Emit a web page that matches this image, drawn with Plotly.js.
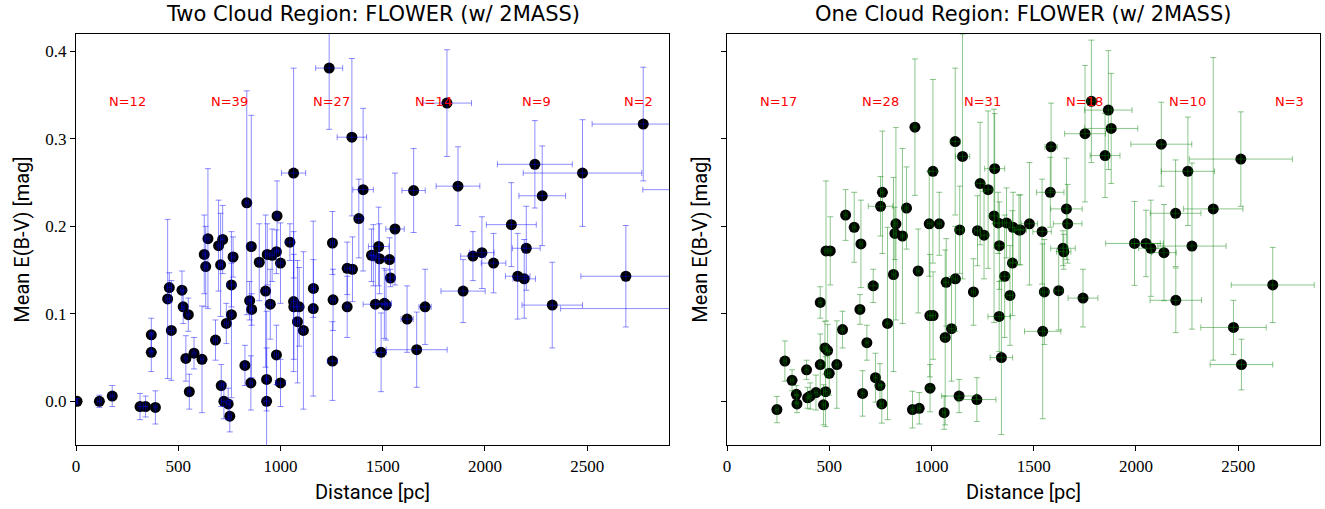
<!DOCTYPE html>
<html>
<head>
<meta charset="utf-8">
<script src="https://cdn.plot.ly/plotly-3.0.1.min.js"></script>
<style>html,body{margin:0;padding:0;background:#fff;}#chart{width:1325px;height:509px;}</style>
</head>
<body>
<div id="chart"></div>
<script>
// ---- Two Cloud Region (left, blue) ----
const twoDist = [5,114,177,313,340,388,368,368,448,456,466,518,524,549,537,554,577,616,627,634,645,682,697,707,717,710,723,744,752,735,760,760,768,826,835,857,849,859,855,896,927,932,932,950,935,959,980,983,980,1000,1000,1046,1064,1064,1065,1091,1083,1112,1161,1160,1238,1254,1257,1254,1349,1404,1383,1326,1352,1326,1445,1480,1454,1484,1533,1538,1560,1464,1508,1516,1492,1651,1619,1666,1707,1814,1868,1893,1941,1985,2042,2129,2160,2192,2202,2244,2280,2329,2477,2689,2774,3150,3200];
const twoEBV = [0.000,0.000,0.006,-0.006,-0.006,-0.007,0.076,0.056,0.117,0.130,0.081,0.127,0.108,0.099,0.049,0.011,0.055,0.048,0.168,0.154,0.186,0.070,0.178,0.156,0.185,0.018,0.000,-0.003,-0.017,0.089,0.099,0.133,0.165,0.041,0.227,0.177,0.115,0.105,0.021,0.159,0.126,0.025,0.000,0.111,0.168,0.167,0.171,0.212,0.053,0.158,0.021,0.182,0.261,0.114,0.108,0.108,0.091,0.081,0.129,0.106,0.381,0.181,0.116,0.046,0.302,0.242,0.209,0.152,0.151,0.108,0.167,0.177,0.167,0.163,0.162,0.141,0.197,0.111,0.112,0.110,0.056,0.241,0.094,0.059,0.108,0.341,0.246,0.126,0.166,0.170,0.158,0.202,0.143,0.140,0.175,0.271,0.235,0.110,0.261,0.143,0.317,0.242,0.106];
const twoDistErr = [3,10,10,10,10,8,8,8,10,12,12,8,8,8,8,8,10,8,8,8,10,10,8,8,8,10,12,10,8,10,8,20,10,8,8,8,8,8,8,10,10,8,12,12,10,10,10,10,10,12,25,20,59,12,15,15,10,10,10,12,66,10,12,25,72,50,15,12,10,10,12,50,15,35,25,20,45,60,35,20,25,57,30,149,30,120,107,108,60,60,60,122,60,55,68,183,114,148,290,220,250,378,830];
const twoEBVErr = [0.003,0.007,0.012,0.015,0.012,0.019,0.019,0.022,0.091,0.017,0.057,0.022,0.019,0.019,0.026,0.020,0.018,0.061,0.045,0.046,0.080,0.023,0.052,0.059,0.039,0.024,0.020,0.018,0.018,0.023,0.095,0.025,0.023,0.023,0.128,0.150,0.022,0.018,0.031,0.044,0.087,0.036,0.103,0.040,0.035,0.030,0.025,0.040,0.034,0.046,0.027,0.021,0.120,0.080,0.060,0.045,0.070,0.090,0.033,0.100,0.070,0.036,0.035,0.045,0.090,0.093,0.045,0.030,0.037,0.035,0.030,0.045,0.035,0.040,0.025,0.010,0.064,0.055,0.040,0.040,0.045,0.048,0.038,0.043,0.043,0.061,0.045,0.036,0.028,0.041,0.034,0.048,0.049,0.045,0.048,0.050,0.057,0.049,0.061,0.058,0.065,0.050,0.050];

// ---- One Cloud Region (right, green) ----
const oneDist = [244,283,318,339,342,389,394,407,435,456,456,472,482,479,492,500,484,505,537,565,580,622,655,650,663,684,715,726,748,757,751,760,785,814,826,821,858,878,919,907,940,935,989,993,992,1008,1007,1038,1062,1067,1072,1098,1117,1116,1152,1138,1135,1205,1222,1238,1225,1257,1277,1309,1306,1326,1332,1367,1399,1396,1358,1384,1331,1342,1428,1435,1479,1541,1585,1581,1660,1666,1643,1647,1552,1622,1741,1544,1751,1782,1865,1879,1849,2124,2254,2194,2378,2513,1993,2049,2073,2137,2274,2195,2477,2516,2669];
const oneEBV = [-0.0095,0.046,0.024,0.008,-0.003,0.036,0.004,0.006,0.010,0.113,0.042,-0.004,0.011,0.061,0.058,0.032,0.172,0.172,0.042,0.082,0.213,0.199,0.180,0.105,0.009,0.067,0.132,0.027,0.018,-0.003,0.223,0.239,0.089,0.145,0.203,0.192,0.189,0.221,0.3135,-0.0095,-0.008,0.149,0.203,0.015,0.098,0.098,0.263,0.203,-0.013,0.073,0.136,0.083,0.140,0.297,0.280,0.196,0.006,0.125,0.002,0.249,0.195,0.190,0.242,0.266,0.212,0.204,0.178,0.204,0.199,0.158,0.143,0.121,0.097,0.050,0.196,0.196,0.203,0.194,0.291,0.239,0.220,0.203,0.175,0.171,0.125,0.1265,0.118,0.080,0.306,0.343,0.333,0.312,0.281,0.294,0.263,0.215,0.220,0.277,0.1805,0.1805,0.175,0.170,0.1775,0.1155,0.0844,0.042,0.133];
const oneDistErr = [8,8,8,8,8,8,8,8,8,8,8,8,8,8,8,8,8,8,8,8,8,8,8,8,8,8,25,8,8,8,60,8,8,8,8,8,8,8,8,8,8,8,10,15,12,12,20,10,8,15,12,12,12,25,35,20,85,10,93,20,15,15,20,49,20,20,25,20,20,20,20,15,55,55,20,30,40,45,30,67,77,70,60,35,20,20,73,89,100,20,116,130,73,149,130,124,145,252,141,70,60,60,167,126,160,153,203];
const oneEBVErr = [0.015,0.023,0.012,0.010,0.010,0.011,0.012,0.015,0.020,0.018,0.035,0.023,0.040,0.030,0.030,0.025,0.080,0.039,0.050,0.021,0.029,0.040,0.050,0.017,0.026,0.020,0.019,0.028,0.025,0.022,0.034,0.070,0.110,0.111,0.110,0.030,0.100,0.047,0.078,0.021,0.018,0.048,0.060,0.027,0.070,0.050,0.105,0.036,0.019,0.100,0.050,0.060,0.060,0.084,0.140,0.050,0.019,0.038,0.025,0.070,0.040,0.050,0.090,0.063,0.122,0.035,0.050,0.040,0.040,0.060,0.070,0.057,0.040,0.088,0.040,0.040,0.070,0.060,0.050,0.040,0.058,0.045,0.020,0.020,0.060,0.045,0.033,0.100,0.078,0.070,0.068,0.063,0.048,0.048,0.062,0.061,0.173,0.054,0.048,0.038,0.055,0.055,0.095,0.037,0.031,0.029,0.043];

// ---- bin labels ----
const binCenters = [250,750,1250,1750,2250,2750];
const twoCounts = ['N=12','N=39','N=27','N=14','N=9','N=2'];
const oneCounts = ['N=17','N=28','N=31','N=18','N=10','N=3'];
const labelY = 0.343;

const titles = ['Two Cloud Region: FLOWER (w/ 2MASS)','One Cloud Region: FLOWER (w/ 2MASS)'];

function markerTrace(x, y, xa, ya) {
  return {x:x, y:y, xaxis:xa, yaxis:ya, type:'scatter', mode:'markers',
    marker:{color:'black', size:11, line:{width:0}}, hoverinfo:'skip', showlegend:false};
}
function errTrace(x, y, ex, ey, xa, ya, col) {
  return {x:x, y:y, xaxis:xa, yaxis:ya, type:'scatter', mode:'markers',
    marker:{color:col, size:1, opacity:0},
    error_x:{type:'data', array:ex, visible:true, color:col, thickness:1, width:3},
    error_y:{type:'data', array:ey, visible:true, color:col, thickness:1, width:3},
    hoverinfo:'skip', showlegend:false};
}
const blue = 'rgba(0,0,255,0.45)';
const green = 'rgba(0,128,0,0.45)';

const data = [
  markerTrace(twoDist, twoEBV, 'x', 'y'),
  errTrace(twoDist, twoEBV, twoDistErr, twoEBVErr, 'x', 'y', blue),
  markerTrace(oneDist, oneEBV, 'x2', 'y2'),
  errTrace(oneDist, oneEBV, oneDistErr, oneEBVErr, 'x2', 'y2', green)
];

const tickFont = {family:'Liberation Serif, DejaVu Serif, serif', size:17, color:'black'};
const axisTitleFont = {family:'Roboto, DejaVu Sans, sans-serif', size:20, color:'black'};
const mainTitleFont = {family:'DejaVu Sans, sans-serif', size:21, color:'black'};

function xax(domain) {
  return {domain:domain, range:[0,2900], tickvals:[0,500,1000,1500,2000,2500],
    ticks:'outside', ticklen:5, tickcolor:'black', showline:true, linecolor:'black', linewidth:1.2,
    mirror:true, showgrid:false, zeroline:false, tickfont:tickFont,
    title:{text:'Distance [pc]', font:axisTitleFont, standoff:10}};
}
function yax(domain, anchor, labels) {
  return {domain:domain, anchor:anchor, range:[-0.05,0.42], tickvals:[0,0.1,0.2,0.3,0.4], tickformat:'.1f',
    ticks:'outside', ticklen:5, tickcolor:'black', showline:true, linecolor:'black', linewidth:1.2,
    mirror:true, showgrid:false, zeroline:false, tickfont:tickFont, showticklabels:labels,
    title:{text:'Mean E(B-V) [mag]', font:axisTitleFont, standoff: labels ? 10 : 7}};
}

const yDom = [0.1257, 0.9332];
const annotations = [];
binCenters.forEach((c, i) => {
  annotations.push({x:c, y:labelY, xref:'x', yref:'y', text:twoCounts[i], showarrow:false,
    font:{family:'DejaVu Sans, sans-serif', size:13, color:'red'}});
  annotations.push({x:c, y:labelY, xref:'x2', yref:'y2', text:oneCounts[i], showarrow:false,
    font:{family:'DejaVu Sans, sans-serif', size:13, color:'red'}});
});
annotations.push({x:(0.0574+0.5049)/2, y:0.9332, xref:'paper', yref:'paper', xanchor:'center', yanchor:'bottom', yshift:6,
  text:titles[0], showarrow:false, font:mainTitleFont});
annotations.push({x:(0.5487+0.9962)/2, y:0.9332, xref:'paper', yref:'paper', xanchor:'center', yanchor:'bottom', yshift:6,
  text:titles[1], showarrow:false, font:mainTitleFont});

const layout = {
  width:1325, height:509,
  margin:{l:0, r:0, t:0, b:0},
  paper_bgcolor:'white', plot_bgcolor:'white',
  xaxis: xax([0.0574, 0.5049]),
  yaxis: yax(yDom, 'x', true),
  xaxis2: Object.assign(xax([0.5487, 0.9962]), {anchor:'y2'}),
  yaxis2: yax(yDom, 'x2', false),
  annotations: annotations,
  showlegend:false
};
layout.xaxis.anchor = 'y';

Plotly.newPlot('chart', data, layout, {displayModeBar:false, staticPlot:true});
</script>
</body>
</html>
